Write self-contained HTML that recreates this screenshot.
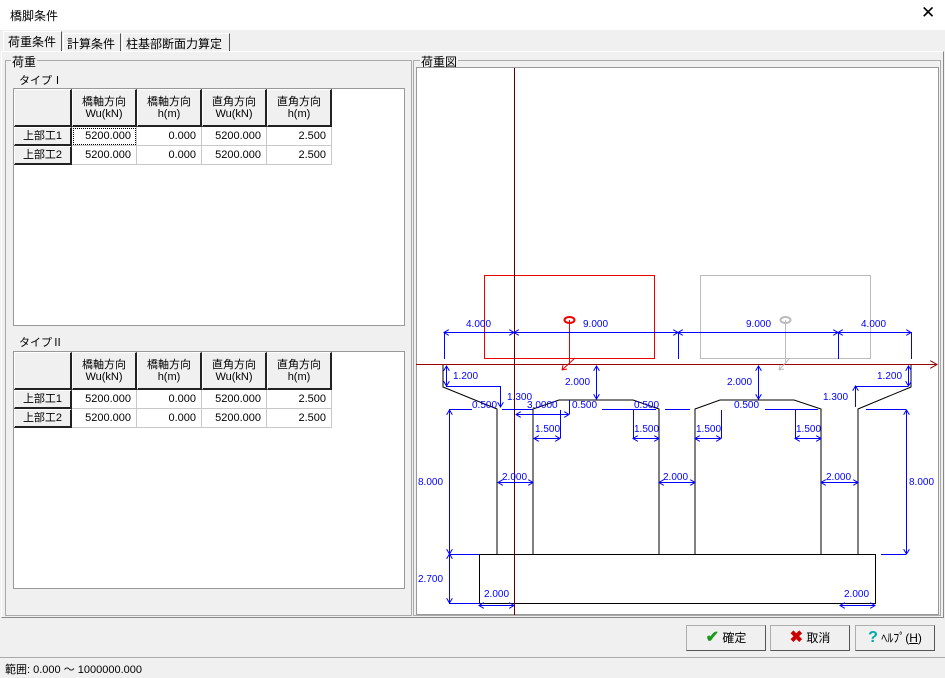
<!DOCTYPE html>
<html><head><meta charset="utf-8">
<style>
*{margin:0;padding:0;box-sizing:border-box}
body{width:945px;height:678px;background:#f0f0f0;font-family:"Liberation Sans","Noto Sans CJK JP",sans-serif;font-size:12px;color:#000;position:relative;overflow:hidden}
.a{position:absolute}
.t{position:absolute;white-space:nowrap}
.cell{position:absolute;border-right:1px solid #c8c8c8;border-bottom:1px solid #c8c8c8;background:#fff;font-size:11px;text-align:right;padding-right:5px;line-height:18px}
.hd{position:absolute;background:#f0f0f0;border-top:1px solid #fff;border-left:1px solid #fff;border-right:2px solid #222;border-bottom:2px solid #222;font-size:11px;text-align:center;line-height:12px}
.rh{position:absolute;background:#f0f0f0;border-top:1px solid #fff;border-left:1px solid #fff;border-right:2px solid #222;border-bottom:2px solid #222;font-size:11px;text-align:center;line-height:16px}
.btn{position:absolute;top:625px;height:26px;width:80px;background:#f0f0f0;border:1px solid #adadad;border-right-color:#555;border-bottom-color:#555;font-size:12px;line-height:24px;text-align:center}
</style></head><body>
<div class="a" style="left:0;top:0;width:945px;height:30px;background:#fff"></div>
<div class="t" style="left:10px;top:7px;font-size:12px">橋脚条件</div>
<div class="t" style="left:921px;top:3px;font-size:17px">✕</div>
<div class="a" style="left:3px;top:31px;width:59px;height:21px;background:#f0f0f0;border:1px solid #fff;border-right:1px solid #555;border-bottom:none"></div>
<div class="t" style="left:8px;top:33px">荷重条件</div>
<div class="a" style="left:63px;top:33px;width:58px;height:18px;border:1px solid #fff;border-right:1px solid #555;border-bottom:none"></div>
<div class="t" style="left:67px;top:35px">計算条件</div>
<div class="a" style="left:122px;top:33px;width:108px;height:18px;border:1px solid #fff;border-right:1px solid #555;border-bottom:none"></div>
<div class="t" style="left:126px;top:35px">柱基部断面力算定</div>
<div class="a" style="left:1px;top:51px;width:943px;height:567px;border:1px solid #fff;border-right:1px solid #888;border-bottom:1px solid #888"></div>
<div class="a" style="left:5px;top:60px;width:407px;height:556px;border:1px solid #aaa"></div>
<div class="t" style="left:11px;top:53px;background:#f0f0f0;padding:0 1px">荷重</div>
<div class="t" style="left:19px;top:72px;font-size:11px">タイプⅠ</div>
<div class="a" style="left:13px;top:88px;width:392px;height:238px;background:#fff;border:1px solid #999"></div>
<div class="t" style="left:19px;top:334px;font-size:11px">タイプⅡ</div>
<div class="a" style="left:13px;top:351px;width:392px;height:238px;background:#fff;border:1px solid #999"></div>
<div class="hd" style="left:14px;top:89px;width:58px;height:38px"></div>
<div class="hd" style="left:72px;top:89px;width:65px;height:38px;padding-top:6px">橋軸方向<br>Wu(kN)</div>
<div class="hd" style="left:137px;top:89px;width:65px;height:38px;padding-top:6px">橋軸方向<br>h(m)</div>
<div class="hd" style="left:202px;top:89px;width:65px;height:38px;padding-top:6px">直角方向<br>Wu(kN)</div>
<div class="hd" style="left:267px;top:89px;width:65px;height:38px;padding-top:6px">直角方向<br>h(m)</div>
<div class="rh" style="left:14px;top:127px;width:58px;height:19px">上部工1</div>
<div class="rh" style="left:14px;top:146px;width:58px;height:19px">上部工2</div>
<div class="cell" style="left:72px;top:127px;width:65px;height:19px;outline:1px dotted #000;outline-offset:-2px">5200.000</div>
<div class="cell" style="left:137px;top:127px;width:65px;height:19px">0.000</div>
<div class="cell" style="left:202px;top:127px;width:65px;height:19px">5200.000</div>
<div class="cell" style="left:267px;top:127px;width:65px;height:19px">2.500</div>
<div class="cell" style="left:72px;top:146px;width:65px;height:19px">5200.000</div>
<div class="cell" style="left:137px;top:146px;width:65px;height:19px">0.000</div>
<div class="cell" style="left:202px;top:146px;width:65px;height:19px">5200.000</div>
<div class="cell" style="left:267px;top:146px;width:65px;height:19px">2.500</div>
<div class="hd" style="left:14px;top:352px;width:58px;height:38px"></div>
<div class="hd" style="left:72px;top:352px;width:65px;height:38px;padding-top:6px">橋軸方向<br>Wu(kN)</div>
<div class="hd" style="left:137px;top:352px;width:65px;height:38px;padding-top:6px">橋軸方向<br>h(m)</div>
<div class="hd" style="left:202px;top:352px;width:65px;height:38px;padding-top:6px">直角方向<br>Wu(kN)</div>
<div class="hd" style="left:267px;top:352px;width:65px;height:38px;padding-top:6px">直角方向<br>h(m)</div>
<div class="rh" style="left:14px;top:390px;width:58px;height:19px">上部工1</div>
<div class="rh" style="left:14px;top:409px;width:58px;height:19px">上部工2</div>
<div class="cell" style="left:72px;top:390px;width:65px;height:19px">5200.000</div>
<div class="cell" style="left:137px;top:390px;width:65px;height:19px">0.000</div>
<div class="cell" style="left:202px;top:390px;width:65px;height:19px">5200.000</div>
<div class="cell" style="left:267px;top:390px;width:65px;height:19px">2.500</div>
<div class="cell" style="left:72px;top:409px;width:65px;height:19px">5200.000</div>
<div class="cell" style="left:137px;top:409px;width:65px;height:19px">0.000</div>
<div class="cell" style="left:202px;top:409px;width:65px;height:19px">5200.000</div>
<div class="cell" style="left:267px;top:409px;width:65px;height:19px">2.500</div>
<div class="a" style="left:413px;top:60px;width:528px;height:556px;border:1px solid #aaa"></div>
<div class="t" style="left:420px;top:53px;background:#f0f0f0;padding:0 1px">荷重図</div>
<div class="a" style="left:416px;top:67px;width:523px;height:548px;background:#fff;border:1px solid #999"></div>
<svg class="a" style="left:0;top:0" width="945" height="678" viewBox="0 0 945 678">
<defs>
<marker id="ar" markerWidth="6" markerHeight="6" refX="5" refY="3" orient="auto-start-reverse"><path d="M0,0 L5,3 L0,6" fill="none" stroke="#00f" stroke-width="1"/></marker>
<marker id="rr" markerWidth="8" markerHeight="8" refX="7" refY="4" orient="auto"><path d="M0,0 L7,4 L0,8" fill="none" stroke="#800" stroke-width="1"/></marker>
</defs>
<g fill="none" stroke="#000" stroke-width="1">
<polyline points="443,365 443,387 497,409 497,554"/>
<polyline points="533,554 533,409 559,400 633,400 659,409 659,554"/>
<polyline points="695,554 695,409 720,400 794,400 821,409 821,554"/>
<polyline points="858,554 858,409 911,387 911,365"/>
<rect x="479.5" y="554.5" width="396" height="49"/>
</g>
<rect x="484.5" y="275.5" width="170" height="83" fill="none" stroke="#e00"/>
<rect x="700.5" y="275.5" width="170" height="83" fill="none" stroke="#bbb"/>
<line x1="514.5" y1="68" x2="514.5" y2="615" stroke="#5a0000"/>
<line x1="416" y1="364.5" x2="937" y2="364.5" stroke="#900" marker-end="url(#rr)"/>
<line x1="569.5" y1="320" x2="569.5" y2="364" stroke="#e00"/>
<ellipse cx="569.5" cy="320" rx="5" ry="3" fill="none" stroke="#e00" stroke-width="2"/>
<line x1="562" y1="370" x2="575" y2="358" stroke="#e00"/>
<path d="M562,370 l5,-1 M562,370 l1,-5" stroke="#e00"/>
<line x1="785.5" y1="320" x2="785.5" y2="364" stroke="#bbb"/>
<ellipse cx="785.5" cy="320" rx="5" ry="3" fill="none" stroke="#bbb" stroke-width="2"/>
<line x1="779" y1="370" x2="790" y2="358" stroke="#bbb"/>
<path d="M779,370 l5,-1 M779,370 l1,-5" stroke="#bbb"/>
<g stroke="#00f" stroke-width="1" fill="none">
<line x1="444" y1="332.5" x2="514" y2="332.5" marker-start="url(#ar)" marker-end="url(#ar)"/>
<line x1="514" y1="332.5" x2="678" y2="332.5" marker-start="url(#ar)" marker-end="url(#ar)"/>
<line x1="678" y1="332.5" x2="838" y2="332.5" marker-start="url(#ar)" marker-end="url(#ar)"/>
<line x1="838" y1="332.5" x2="911" y2="332.5" marker-start="url(#ar)" marker-end="url(#ar)"/>
<line x1="444.5" y1="332" x2="444.5" y2="359"/><line x1="678.5" y1="332" x2="678.5" y2="359"/>
<line x1="838.5" y1="332" x2="838.5" y2="359"/><line x1="911.5" y1="332" x2="911.5" y2="359"/>
<line x1="446.5" y1="366" x2="446.5" y2="386" marker-start="url(#ar)" marker-end="url(#ar)"/>
<line x1="446" y1="386.5" x2="500" y2="386.5"/><line x1="500.5" y1="386" x2="500.5" y2="407" marker-end="url(#ar)"/>
<line x1="908.5" y1="366" x2="908.5" y2="386" marker-start="url(#ar)" marker-end="url(#ar)"/>
<line x1="855" y1="386.5" x2="908" y2="386.5"/><line x1="855.5" y1="386" x2="855.5" y2="407" marker-start="url(#ar)"/>
<line x1="596.5" y1="366" x2="596.5" y2="399" marker-start="url(#ar)" marker-end="url(#ar)"/>
<line x1="758.5" y1="366" x2="758.5" y2="399" marker-start="url(#ar)" marker-end="url(#ar)"/>
<line x1="516" y1="414.5" x2="569" y2="414.5" marker-start="url(#ar)" marker-end="url(#ar)"/>
<line x1="569.5" y1="400" x2="569.5" y2="414"/>
<line x1="502" y1="409.5" x2="533" y2="409.5"/>
<line x1="602" y1="409.5" x2="656" y2="409.5"/><line x1="665" y1="409.5" x2="690" y2="409.5"/>
<line x1="765" y1="409.5" x2="818" y2="409.5"/>
<line x1="534" y1="438.5" x2="560" y2="438.5" marker-start="url(#ar)" marker-end="url(#ar)"/><line x1="560.5" y1="410" x2="560.5" y2="438"/>
<line x1="633" y1="438.5" x2="659" y2="438.5" marker-start="url(#ar)" marker-end="url(#ar)"/><line x1="633.5" y1="410" x2="633.5" y2="438"/>
<line x1="695" y1="438.5" x2="721" y2="438.5" marker-start="url(#ar)" marker-end="url(#ar)"/><line x1="721.5" y1="410" x2="721.5" y2="438"/>
<line x1="795" y1="438.5" x2="821" y2="438.5" marker-start="url(#ar)" marker-end="url(#ar)"/><line x1="795.5" y1="410" x2="795.5" y2="438"/>
<line x1="498" y1="482.5" x2="533" y2="482.5" marker-start="url(#ar)" marker-end="url(#ar)"/>
<line x1="659" y1="482.5" x2="695" y2="482.5" marker-start="url(#ar)" marker-end="url(#ar)"/>
<line x1="821" y1="482.5" x2="858" y2="482.5" marker-start="url(#ar)" marker-end="url(#ar)"/>
<line x1="449.5" y1="410" x2="449.5" y2="554" marker-start="url(#ar)" marker-end="url(#ar)"/>
<line x1="449.5" y1="554" x2="449.5" y2="603" marker-start="url(#ar)" marker-end="url(#ar)"/>
<line x1="449" y1="409.5" x2="472" y2="409.5"/><line x1="449" y1="554.5" x2="479" y2="554.5"/><line x1="449" y1="603.5" x2="479" y2="603.5"/>
<line x1="906.5" y1="410" x2="906.5" y2="554" marker-start="url(#ar)" marker-end="url(#ar)"/>
<line x1="866" y1="409.5" x2="906" y2="409.5"/><line x1="881" y1="554.5" x2="906" y2="554.5"/>
<line x1="479" y1="605.5" x2="514" y2="605.5" marker-start="url(#ar)" marker-end="url(#ar)"/>
<line x1="840" y1="605.5" x2="875" y2="605.5" marker-start="url(#ar)" marker-end="url(#ar)"/>
</g>
<g fill="#00f" font-family="Liberation Sans, sans-serif" font-size="10">
<text x="466" y="327">4.000</text><text x="583" y="327">9.000</text><text x="746" y="327">9.000</text><text x="861" y="327">4.000</text>
<text x="453" y="379">1.200</text><text x="877" y="379">1.200</text>
<text x="565" y="385">2.000</text><text x="727" y="385">2.000</text>
<text x="507" y="400">1.300</text><text x="823" y="400">1.300</text>
<text x="472" y="408">0.500</text><text x="527" y="408">3.0000</text><text x="572" y="408">0.500</text><text x="634" y="408">0.500</text><text x="734" y="408">0.500</text>
<text x="535" y="432">1.500</text><text x="634" y="432">1.500</text><text x="696" y="432">1.500</text><text x="796" y="432">1.500</text>
<text x="502" y="480">2.000</text><text x="663" y="480">2.000</text><text x="826" y="480">2.000</text>
<text x="418" y="485">8.000</text><text x="909" y="485">8.000</text><text x="418" y="582">2.700</text>
<text x="484" y="597">2.000</text><text x="844" y="597">2.000</text>
</g>
</svg>
<div class="btn" style="left:686px"><span style="color:#1a9a1a;font-size:16px;font-weight:bold">✔</span> 確定</div>
<div class="btn" style="left:770px"><span style="color:#c00;font-size:16px;font-weight:bold">✖</span> 取消</div>
<div class="btn" style="left:855px"><span style="color:#0aa;font-size:16px;font-weight:bold">?</span> ﾍﾙﾌﾟ(<u>H</u>)</div>
<div class="a" style="left:0;top:657px;width:945px;height:1px;background:#aaa"></div>
<div class="t" style="left:5px;top:661px;font-size:11px">範囲: 0.000 〜 1000000.000</div>
</body></html>
